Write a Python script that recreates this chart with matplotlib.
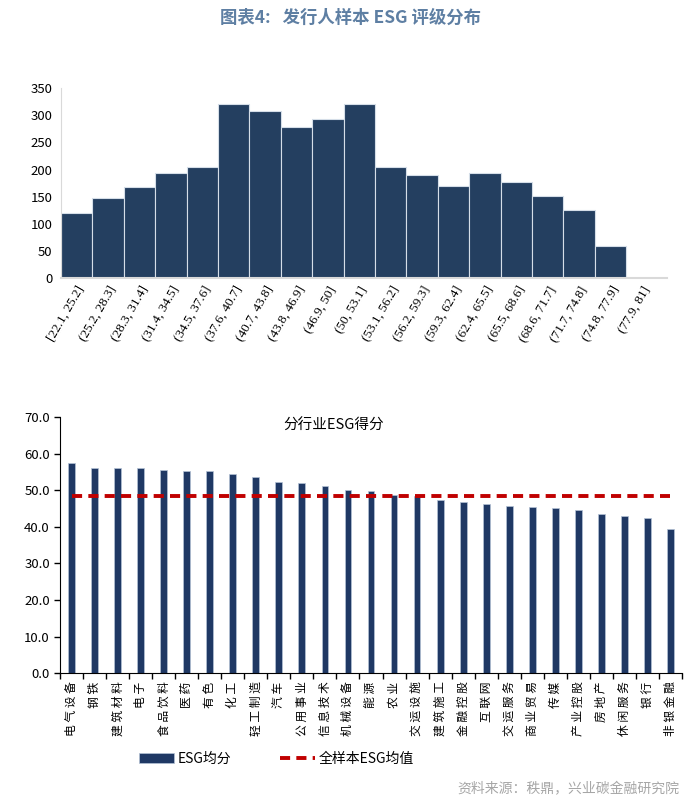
import matplotlib.pyplot as plt
import numpy as np

plt.rcParams['font.family'] = ['Noto Sans CJK SC', 'DejaVu Sans']

# top chart: rating distribution
bins = ["[22.1, 25.2]", "(25.2, 28.3]", "(28.3, 31.4]", "(31.4, 34.5]", "(34.5, 37.6]",
        "(37.6, 40.7]", "(40.7, 43.8]", "(43.8, 46.9]", "(46.9, 50]", "(50, 53.1]",
        "(53.1, 56.2]", "(56.2, 59.3]", "(59.3, 62.4]", "(62.4, 65.5]", "(65.5, 68.6]",
        "(68.6, 71.7]", "(71.7, 74.8]", "(74.8, 77.9]", "(77.9, 81]"]
counts = [120, 148, 168, 193, 205, 321, 308, 279, 294, 321,
          205, 190, 170, 193, 178, 151, 126, 59, 0]

# bottom chart: industry scores
industries = ["电气设备", "钢铁", "建筑材料", "电子", "食品饮料", "医药", "有色", "化工",
              "轻工制造", "汽车", "公用事业", "信息技术", "机械设备", "能源", "农业",
              "交运设施", "建筑施工", "金融控股", "互联网", "交运服务", "商业贸易", "传媒",
              "产业控股", "房地产", "休闲服务", "银行", "非银金融"]
scores = [57.4, 56.1, 56.1, 56.1, 55.6, 55.3, 55.3, 54.5, 53.5, 52.2, 52.0, 51.1, 50.1,
          49.9, 48.8, 48.5, 47.2, 46.9, 46.1, 45.6, 45.3, 45.0, 44.6, 43.5, 42.9, 42.4, 39.5]
mean_score = 48.4

navy = "#243F60"
fig = plt.figure(figsize=(7, 8.09), dpi=100)

fig.text(0.5, 0.978, "图表4:   发行人样本 ESG 评级分布", ha="center", va="center",
         fontsize=12.5, fontweight="bold", color="#5E7FA3")

# ---- top
ax1 = fig.add_axes([0.087, 0.656, 0.866, 0.235])
x1 = np.arange(len(bins))
ax1.bar(x1, counts, width=1.0, color=navy, edgecolor="#D5DEE8", linewidth=0.8)
ax1.set_xlim(-0.5, 18.8)
ax1.set_ylim(0, 350)
ax1.set_yticks(np.arange(0, 351, 50))
ax1.set_xticks(x1)
ax1.set_xticklabels(bins, rotation=60, ha="right", rotation_mode="anchor",
                    family=["Liberation Serif"], fontsize=9.5)
ax1.tick_params(axis="y", length=0, labelsize=9.5, pad=6)
ax1.tick_params(axis="x", length=0, pad=4)
for s in ["top", "right"]:
    ax1.spines[s].set_visible(False)
ax1.spines["left"].set_color("#D9D9D9")
ax1.spines["bottom"].set_color("#D9D9D9")
ax1.spines["bottom"].set_linewidth(1.5)

# ---- bottom
ax2 = fig.add_axes([0.086, 0.168, 0.888, 0.3165])
x2 = np.arange(len(industries))
bars = ax2.bar(x2, scores, width=0.3, color="#1F3864", edgecolor="#B4C2D6", linewidth=0.5,
               label="ESG均分", zorder=2)
line, = ax2.plot([x2[0], x2[-1]], [mean_score, mean_score], color="#C00000", lw=2.8,
                 dashes=(2.6, 1.6), label="全样本ESG均值", zorder=3)
ax2.set_xlim(-0.5, 26.5)
ax2.set_ylim(0, 70)
ax2.set_yticks(np.arange(0, 71, 10))
ax2.set_yticklabels([f"{v:.1f}" for v in np.arange(0, 71, 10)], fontsize=9.5)
ax2.set_xticks(x2)
ax2.set_xticklabels([" ".join(n) for n in industries], rotation=90, fontsize=8.5,
                    va="top", ha="center")
ax2.set_xticks(np.arange(-0.5, 27, 1), minor=True)
ax2.tick_params(axis="x", which="major", length=0, pad=6)
ax2.tick_params(axis="x", which="minor", length=4, direction="out", width=1)
ax2.tick_params(axis="y", length=4, width=1, direction="out")
for s in ["top", "right"]:
    ax2.spines[s].set_visible(False)
ax2.text(0.44, 0.995, "分行业ESG得分", transform=ax2.transAxes, ha="center", va="top",
         fontsize=10.5)

fig.legend([bars, line], ["ESG均分", "全样本ESG均值"], loc="center", ncol=2,
           bbox_to_anchor=(0.395, 0.062), frameon=False, fontsize=10,
           handlelength=2.5, columnspacing=3.5, handletextpad=0.3)

fig.text(0.97, 0.024, "资料来源：秩鼎，兴业碳金融研究院", ha="right", va="center",
         fontsize=10, color="#A6A6A6")

fig.savefig("out.png", dpi=100)
